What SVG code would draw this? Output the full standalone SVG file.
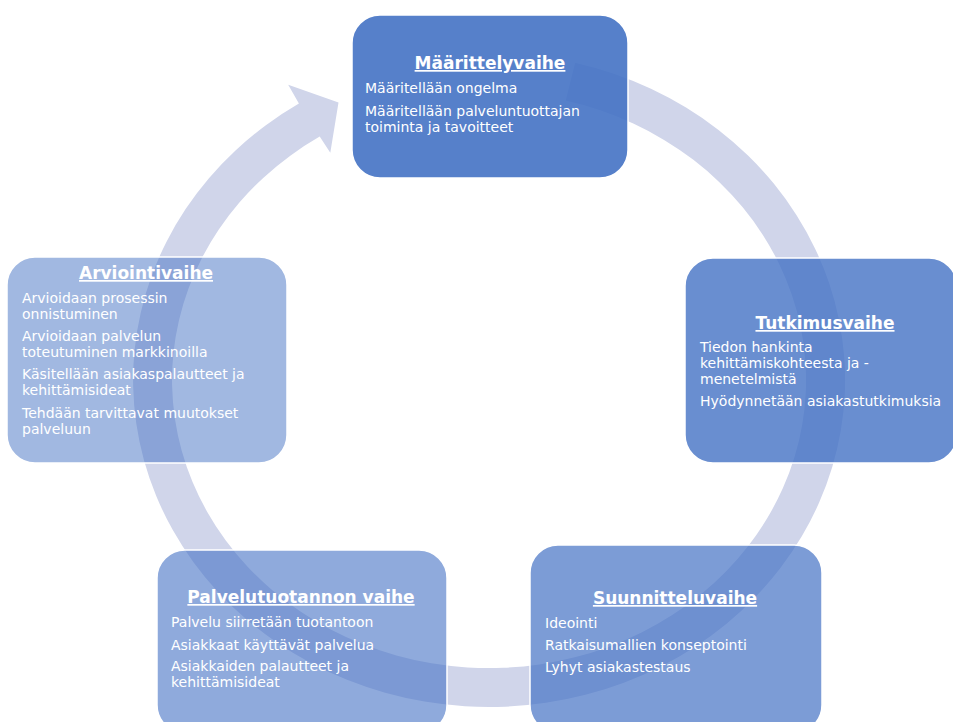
<svg xmlns="http://www.w3.org/2000/svg" width="953" height="722" viewBox="0 0 953 722">
<style>
.box{fill:#4472C4;stroke:#ffffff;stroke-width:1.5}
.t{font-family:"DejaVu Sans",Verdana,sans-serif;fill:#ffffff}
.h{font-size:17px;font-weight:bold;text-decoration:underline;text-anchor:middle}
.b{font-size:14px}
</style>
<rect width="953" height="722" fill="#ffffff"/>
<g id="connectors">
<path d="M575.1,62.7 A356,327 0 1 1 298.9,103.6 L288.2,84.7 L338.5,102.6 L330.3,152.8 L319.7,136.6 A317,288 0 1 0 565.7,100.6 Z" fill="#D0D5EA"/>
</g>
<g id="maarittelyvaihe">
<rect class="box" x="352" y="15" width="276" height="163" rx="28" fill-opacity="0.9"/>
<text class="t h" x="490" y="69">Määrittelyvaihe</text>
<text class="t b" x="365" y="93">Määritellään ongelma</text>
<text class="t b" x="365" y="116">Määritellään palveluntuottajan</text>
<text class="t b" x="365" y="132">toiminta ja tavoitteet</text>
</g>
<g id="tutkimusvaihe">
<rect class="box" x="685" y="258" width="272" height="205" rx="28" fill-opacity="0.8"/>
<text class="t h" x="825" y="329">Tutkimusvaihe</text>
<text class="t b" x="700" y="352">Tiedon hankinta</text>
<text class="t b" x="700" y="368">kehittämiskohteesta ja -</text>
<text class="t b" x="700" y="384">menetelmistä</text>
<text class="t b" x="700" y="406">Hyödynnetään asiakastutkimuksia</text>
</g>
<g id="suunnitteluvaihe">
<rect class="box" x="530" y="545" width="292" height="188" rx="28" fill-opacity="0.7"/>
<text class="t h" x="675" y="604">Suunnitteluvaihe</text>
<text class="t b" x="545" y="628">Ideointi</text>
<text class="t b" x="545" y="650">Ratkaisumallien konseptointi</text>
<text class="t b" x="545" y="672">Lyhyt asiakastestaus</text>
</g>
<g id="palvelutuotannon-vaihe">
<rect class="box" x="157" y="550" width="290" height="183" rx="28" fill-opacity="0.6"/>
<text class="t h" x="301" y="603">Palvelutuotannon vaihe</text>
<text class="t b" x="171" y="627">Palvelu siirretään tuotantoon</text>
<text class="t b" x="171" y="650">Asiakkaat käyttävät palvelua</text>
<text class="t b" x="171" y="671">Asiakkaiden palautteet ja</text>
<text class="t b" x="171" y="687">kehittämisideat</text>
</g>
<g id="arviointivaihe">
<rect class="box" x="7" y="257" width="280" height="206" rx="28" fill-opacity="0.5"/>
<text class="t h" x="146" y="279">Arviointivaihe</text>
<text class="t b" x="22" y="303">Arvioidaan prosessin</text>
<text class="t b" x="22" y="319">onnistuminen</text>
<text class="t b" x="22" y="341">Arvioidaan palvelun</text>
<text class="t b" x="22" y="357">toteutuminen markkinoilla</text>
<text class="t b" x="22" y="379">Käsitellään asiakaspalautteet ja</text>
<text class="t b" x="22" y="395">kehittämisideat</text>
<text class="t b" x="22" y="418">Tehdään tarvittavat muutokset</text>
<text class="t b" x="22" y="434">palveluun</text>
</g>
</svg>
